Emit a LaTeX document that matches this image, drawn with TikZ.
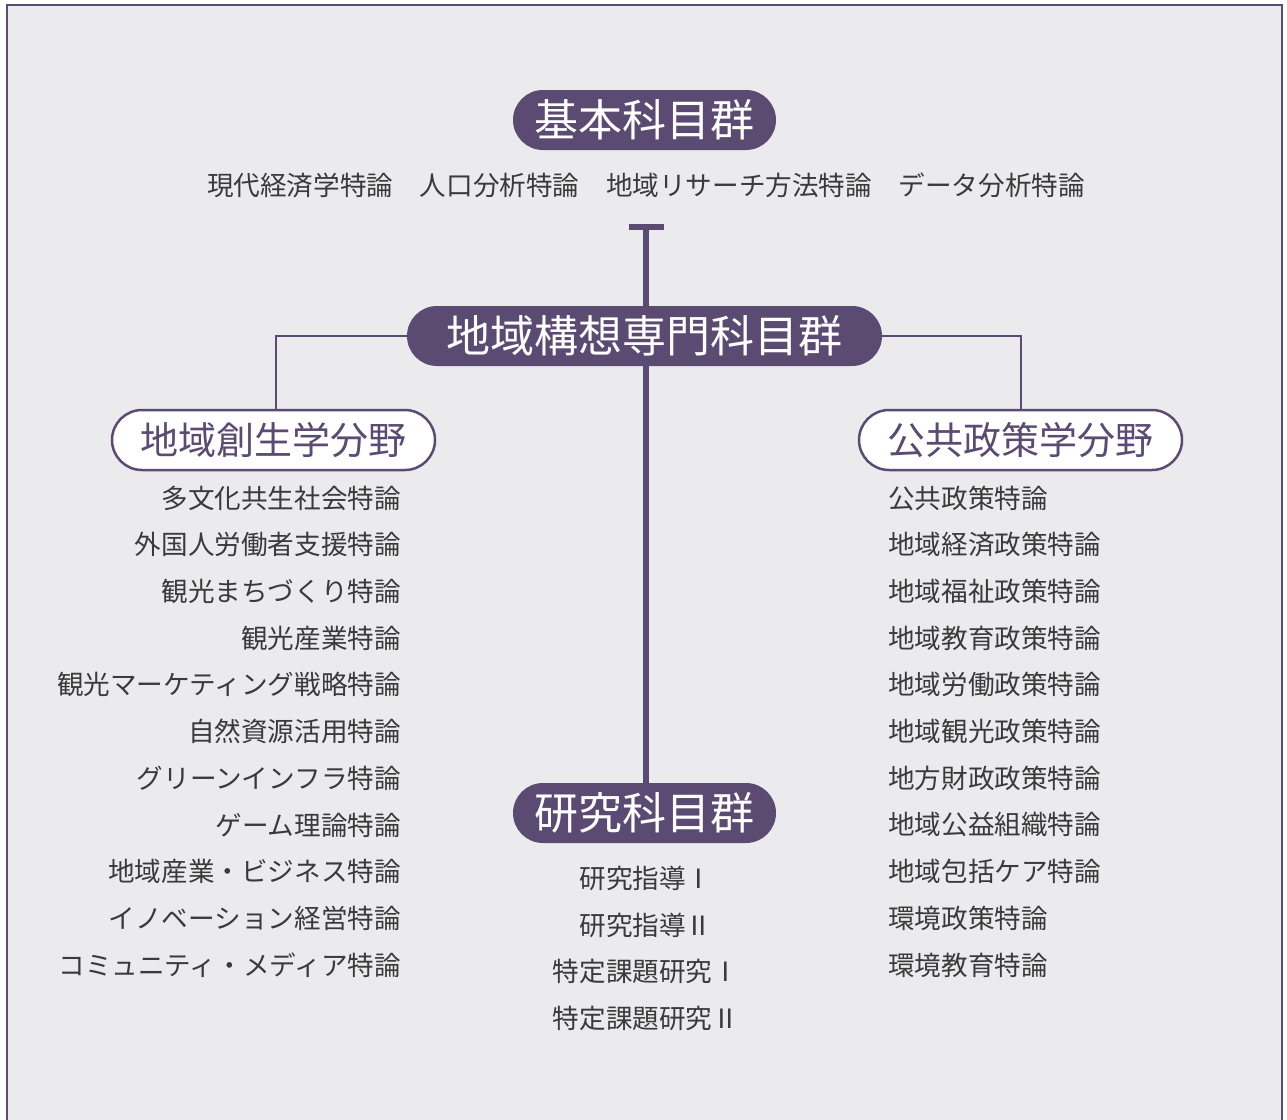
\documentclass[tikz,border=0pt]{standalone}
\usepackage{fontspec}
\newfontfamily\jp{Noto Sans CJK JP}
\definecolor{pur}{HTML}{5B4A72}
\definecolor{bgc}{HTML}{EBEBED}
\definecolor{txt}{HTML}{3A3A3A}
\begin{document}
\begin{tikzpicture}[x=1pt,y=-1pt,
  filledpill/.style={fill=pur,draw=none,text=white,rounded corners=30pt,minimum height=60pt,inner sep=0pt,font=\jp\fontsize{44}{48}\selectfont},
  outpill/.style={fill=white,draw=pur,line width=2.5pt,text=pur,rounded corners=30pt,minimum height=60pt,minimum width=323pt,inner sep=0pt,font=\jp\fontsize{38}{40}\selectfont},
  item/.style={text=txt,inner sep=0pt,font=\jp\fontsize{26.6}{30}\selectfont},
  thickline/.style={draw=pur,line width=6pt},
  thinline/.style={draw=pur,line width=2pt}]
\useasboundingbox (0,0) rectangle (1287,1119);
\fill[white] (0,0) rectangle (1287,1119);
\fill[bgc] (7,5) rectangle (1282,1130);
\draw[pur,line width=2pt] (7,1130) -- (7,5) -- (1282,5) -- (1282,1130);

% title pills
\node[filledpill,minimum width=263pt] (kihon) at (644.5,120) {基本科目群};
\node[item] (kihonlist) at (646,185) {現代経済学特論　人口分析特論　地域リサーチ方法特論　データ分析特論};
\coordinate (tbar) at (646,227);
\node[filledpill,minimum width=475pt] (senmon) at (644.5,336) {地域構想専門科目群};
\node[filledpill,minimum width=263pt] (kenkyu) at (644.5,813) {研究科目群};
\node[outpill] (sosei) at (273.5,440) {地域創生学分野};
\node[outpill] (kokyo) at (1020.5,440) {公共政策学分野};

% connectors
\draw[thickline] ([xshift=-17.5pt]tbar) -- ([xshift=17.5pt]tbar);
\draw[thickline] (tbar) -- (senmon.north -| tbar);
\draw[thickline] (senmon.south -| tbar) -- (kenkyu.north -| tbar);
\draw[thinline] (senmon.west) -| ([xshift=2.5pt]sosei.north);
\draw[thinline] (senmon.east) -| (kokyo.north);

% left list
\foreach \t [count=\i] in {多文化共生社会特論,外国人労働者支援特論,観光まちづくり特論,観光産業特論,観光マーケティング戦略特論,自然資源活用特論,グリーンインフラ特論,ゲーム理論特論,地域産業・ビジネス特論,イノベーション経営特論,コミュニティ・メディア特論}
  \node[item,anchor=east] (l\i) at (401,{498+46.7*(\i-1)}) {\t};

% right list
\foreach \t [count=\i] in {公共政策特論,地域経済政策特論,地域福祉政策特論,地域教育政策特論,地域労働政策特論,地域観光政策特論,地方財政政策特論,地域公益組織特論,地域包括ケア特論,環境政策特論,環境教育特論}
  \node[item,anchor=west] (r\i) at (888,{498+46.7*(\i-1)}) {\t};

% center list
\node[item] (c1) at (646,878) {研究指導Ⅰ};
\node[item] (c2) at (646,925) {研究指導Ⅱ};
\node[item] (c3) at (646,971) {特定課題研究Ⅰ};
\node[item] (c4) at (646,1018) {特定課題研究Ⅱ};
\end{tikzpicture}
\end{document}
